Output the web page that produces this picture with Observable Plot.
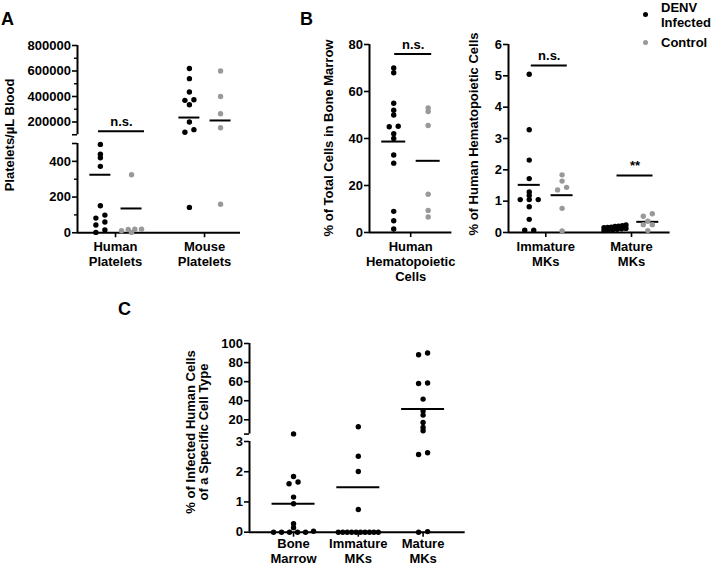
<!DOCTYPE html>
<html><head><meta charset="utf-8">
<script src="https://cdn.jsdelivr.net/npm/d3@7"></script>
<script src="https://cdn.jsdelivr.net/npm/@observablehq/plot@0.6"></script>
<style>
html,body{margin:0;padding:0;background:#fff;}
#root{position:relative;width:715px;height:566px;overflow:hidden;background:#fff;font-family:"Liberation Sans",Arial,Helvetica,sans-serif;font-weight:bold;color:#000;}
.lbl{position:absolute;white-space:nowrap;font-size:13px;line-height:15px;}
.ylab{position:absolute;white-space:nowrap;font-size:13px;line-height:13.4px;text-align:center;transform:translate(-50%,-50%) rotate(-90deg);}
.letter{position:absolute;font-size:18px;line-height:18px;}
.sw{position:absolute;width:5.4px;height:5.4px;border-radius:50%;}
</style></head><body><div id="root"></div>
<script>
// ---------- DATA ----------
const conditions = ["DENV Infected", "Control"];
const conditionColors = ["#000000", "#999999"];

// Panel A: platelets per µL blood
const catsA = ["Human Platelets", "Mouse Platelets"];
const humanPlateletsDenv = [495, 440, 420, 372, 151, 99, 82, 60, 43, 15, 2];
const humanPlateletsCtrl = [325, 20, 20, 18, 11, 2];
const mousePlateletsDenv = [620000, 540000, 435000, 375000, 370000, 335000, 200000, 140000, 120000, 142];
const mousePlateletsCtrl = [600000, 400000, 265000, 155000, 160];
const meanADenv = [325, 235000];
const meanACtrl = [136, 212000];
const sigA = [{category: "Human Platelets", label: "n.s.", value: 128000}];

// Panel B (left): % of total cells in bone marrow
const catsBL = ["Human Hematopoietic Cells"];
const hematoDenv = [70, 68, 55, 52, 50, 45.2, 45, 42, 40, 33, 29.5, 9, 5, 1.5];
const hematoCtrl = [53, 51.5, 45.5, 16.3, 9.4, 6.6];
const meanBLDenv = [38.7];
const meanBLCtrl = [30.5];
const sigBL = [{category: "Human Hematopoietic Cells", label: "n.s.", value: 76}];

// Panel B (right): % of human hematopoietic cells
const catsBR = ["Immature MKs", "Mature MKs"];
const immatureDenv = [5.05, 3.28, 2.31, 1.72, 1.29, 1.18, 1.05, 1.05, 1.05, 0.82, 0.42, 0.07, 0.07];
const immatureCtrl = [1.84, 1.64, 1.44, 1.36, 0.77, 0.05];
const matureDenv = [0.24, 0.22, 0.2, 0.19, 0.17, 0.16, 0.15, 0.13, 0.12, 0.1, 0.09, 0.08, 0.06];
const matureCtrl = [0.6, 0.52, 0.36, 0.25, 0.25, 0.06];
const meanBRDenv = [1.52, 0.14];
const meanBRCtrl = [1.19, 0.34];
const sigBR = [
  {category: "Immature MKs", label: "n.s.", value: 5.33},
  {category: "Mature MKs", label: "**", value: 1.82}
];

// Panel C: % of infected human cells of a specific cell type
const catsC = ["Bone Marrow", "Immature MKs", "Mature MKs"];
const infBoneMarrow = [5.2, 1.84, 1.66, 1.6, 1.16, 0.94, 0.28, 0.15, 0.03, 0, 0, 0, 0, 0];
const infImmature = [12.7, 2.51, 2.01, 0.75, 0, 0, 0, 0, 0, 0, 0, 0, 0, 0];
const infMature = [90, 88.2, 58.5, 58.1, 41.7, 29.1, 24.9, 17.2, 12, 8.5, 2.63, 2.57, 0.02, 0];
const meanC = [0.94, 1.49, 31.2];

// ---------- LAYOUT ----------
const FONT = '"Liberation Sans", Arial, Helvetica, sans-serif';
const root = document.getElementById("root");

function swarm(vals, yPx, maxW, step = 9, thr = 3.2) {
  const idx = vals.map((v, i) => i).sort((a, b) => vals[b] - vals[a]);
  const off = new Array(vals.length).fill(0);
  let row = [];
  const flush = () => {
    const n = row.length;
    const s = n > 1 ? Math.min(step, maxW / (n - 1)) : 0;
    row.slice().sort((a, b) => vals[a] - vals[b]).forEach((k, j) => off[k] = (j - (n - 1) / 2) * s);
    row = [];
  };
  for (const i of idx) {
    if (row.length && Math.abs(yPx(vals[i]) - yPx(vals[row[0]])) >= thr) flush();
    row.push(i);
  }
  flush();
  return off;
}

function drawPanel(L, cats, series, means, sigs) {
  const pxPerX = (L.fx1 - L.fx0) / (L.xDomain[1] - L.xDomain[0]);
  const hw = L.lineHalf / pxPerX, sh = L.sigHalf / pxPerX;
  for (const S of L.segments) {
    const inSeg = v => v >= S.yDomain[0] && v <= S.yDomain[1];
    const yPx = d3.scaleLinear(S.yDomain, [S.fy1, S.fy0]);
    const pts = [];
    series.forEach((byCat, ci) => byCat.forEach((vals, k) => {
      const vs = vals.filter(inSeg);
      const off = swarm(vs, yPx, L.maxW);
      vs.forEach((v, j) => pts.push({cond: conditions[ci], value: v, x: k + 1 + L.condOffset[ci] + off[j] / pxPerX}));
    }));
    const mline = [];
    means.forEach((byCat, ci) => byCat.forEach((v, k) => {
      if (v != null && inSeg(v)) mline.push({value: v, x: k + 1 + L.condOffset[ci]});
    }));
    const sg = sigs.filter(s => inSeg(s.value)).map(s => ({...s, x: cats.indexOf(s.category) + 1 + L.sigShift / pxPerX}));
    const ml = 72, mr = 14, mt = 16, mb = S.xAxis ? 60 : 6;
    const W = L.fx1 - L.fx0, H = S.fy1 - S.fy0;
    const plot = Plot.plot({
      width: W + ml + mr, height: H + mt + mb,
      marginLeft: ml, marginRight: mr, marginTop: mt, marginBottom: mb,
      x: {domain: L.xDomain, label: null, ...(S.xAxis ? {} : {axis: null})},
      y: {domain: S.yDomain, label: null},
      color: {domain: conditions, range: conditionColors},
      style: {background: "transparent", overflow: "visible", fontFamily: FONT, fontSize: "13px", fontWeight: "bold"},
      marks: [
        Plot.ruleX([L.xDomain[0]], {y1: S.yDomain[0], y2: S.yDomain[1], strokeWidth: 2, stroke: "#000"}),
        Plot.axisY({ticks: [...S.labeled, ...(S.unlabeled || [])], tickFormat: v => S.labeled.includes(v) ? String(v) : "",
          tickSize: 5, tickPadding: 1.5, strokeWidth: 1.6, fontSize: 13, fontWeight: "bold", label: null}),
        S.minor ? Plot.axisY({ticks: S.minor, tickFormat: () => "", tickSize: 3, strokeWidth: 1.4, label: null}) : null,
        S.xAxis ? Plot.ruleY([S.yDomain[0]], {x1: L.xDomain[0], x2: L.xDomain[1], strokeWidth: 2, stroke: "#000"}) : null,
        S.xAxis ? Plot.axisX({ticks: cats.map((c, i) => i + 1), tickFormat: i => cats[i - 1].replace(/ /g, "\n"),
          tickSize: 5, tickPadding: L.xPad ?? 3, strokeWidth: 1.6, lineHeight: L.xLineHeight || 1.15, fontSize: 13, fontWeight: "bold", label: null}) : null,
        Plot.ruleY(mline, {y: "value", x1: d => d.x - hw, x2: d => d.x + hw, strokeWidth: 2, stroke: "#000"}),
        Plot.dot(pts, {x: "x", y: "value", fill: "cond", r: 2.7}),
        Plot.ruleY(sg, {y: "value", x1: d => d.x - sh, x2: d => d.x + sh, strokeWidth: 2, stroke: "#000"}),
        Plot.text(sg, {x: "x", y: "value", text: "label", dy: -9.5, fontSize: 13, fontWeight: "bold"})
      ]
    });
    plot.style.position = "absolute";
    plot.style.left = (L.fx0 - ml) + "px";
    plot.style.top = (S.fy0 - mt) + "px";
    root.appendChild(plot);
  }
}

function addEl(cls, text, css) {
  const d = document.createElement("div");
  d.className = cls;
  d.innerHTML = text;
  Object.assign(d.style, css);
  root.appendChild(d);
  return d;
}

// Panel A
drawPanel({
  fx0: 77, fx1: 240, xDomain: [0.573, 2.404], condOffset: [-0.17, 0.18], maxW: 20,
  lineHalf: 10.5, sigHalf: 23, sigShift: 6,
  segments: [
    {fy0: 45, fy1: 134.25, yDomain: [100000, 800000], labeled: [200000, 400000, 600000, 800000], unlabeled: [100000], minor: [300000, 500000, 700000]},
    {fy0: 142.75, fy1: 232, yDomain: [0, 500], labeled: [0, 200, 400], unlabeled: [500], minor: [100, 300], xAxis: true}
  ]
}, catsA, [[humanPlateletsDenv, mousePlateletsDenv], [humanPlateletsCtrl, mousePlateletsCtrl]], [meanADenv, meanACtrl], sigA);

// Panel B left
drawPanel({
  fx0: 369.3, fx1: 451.7, xDomain: [0.5, 1.5], condOffset: [-0.206, 0.212], maxW: 20,
  lineHalf: 12, sigHalf: 18.5, sigShift: 2.5,
  segments: [{fy0: 44.3, fy1: 232.3, yDomain: [0, 80], labeled: [0, 20, 40, 60, 80], xAxis: true}]
}, catsBL, [[hematoDenv], [hematoCtrl]], [meanBLDenv, meanBLCtrl], sigBL);

// Panel B right
drawPanel({
  fx0: 507.7, fx1: 669.3, xDomain: [0.565, 2.45], condOffset: [-0.193, 0.19], maxW: 22,
  lineHalf: 11, sigHalf: 18, sigShift: 3.5,
  segments: [{fy0: 44.3, fy1: 232.3, yDomain: [0, 6], labeled: [0, 1, 2, 3, 4, 5, 6], xAxis: true}]
}, catsBR, [[immatureDenv, matureDenv], [immatureCtrl, matureCtrl]], [meanBRDenv, meanBRCtrl], sigBR);

// Panel C
drawPanel({
  fx0: 249.3, fx1: 465, xDomain: [0.32, 3.65], condOffset: [0], maxW: 40,
  lineHalf: 21.5, sigHalf: 0, sigShift: 0, xLineHeight: 1.1, xPad: 1,
  segments: [
    {fy0: 342.7, fy1: 433.3, yDomain: [5, 100], labeled: [20, 40, 60, 80, 100], unlabeled: [5]},
    {fy0: 441, fy1: 531.7, yDomain: [0, 3], labeled: [0, 1, 2, 3], xAxis: true}
  ]
}, catsC, [[infBoneMarrow, infImmature, infMature]], [meanC], []);

// Axis titles
addEl("ylab", "Platelets/µL Blood", {left: "10px", top: "135px"});
addEl("ylab", "% of Total Cells in Bone Marrow", {left: "328.5px", top: "138px"});
addEl("ylab", "% of Human Hematopoietic Cells", {left: "473.5px", top: "134px"});
addEl("ylab", "% of Infected Human Cells<br>of a Specific Cell Type", {left: "197px", top: "432px"});

// Panel letters
addEl("letter", "A", {left: "1px", top: "10px"});
addEl("letter", "B", {left: "300px", top: "10px"});
addEl("letter", "C", {left: "118px", top: "300px"});

// Legend
addEl("lbl", conditions[0].replace(" ", "<br>"), {left: "661px", top: "0px"});
addEl("lbl", conditions[1], {left: "661px", top: "35px"});
addEl("sw", "", {left: "643px", top: "12px", background: conditionColors[0]});
addEl("sw", "", {left: "643px", top: "40px", background: conditionColors[1]});
</script></body></html>
